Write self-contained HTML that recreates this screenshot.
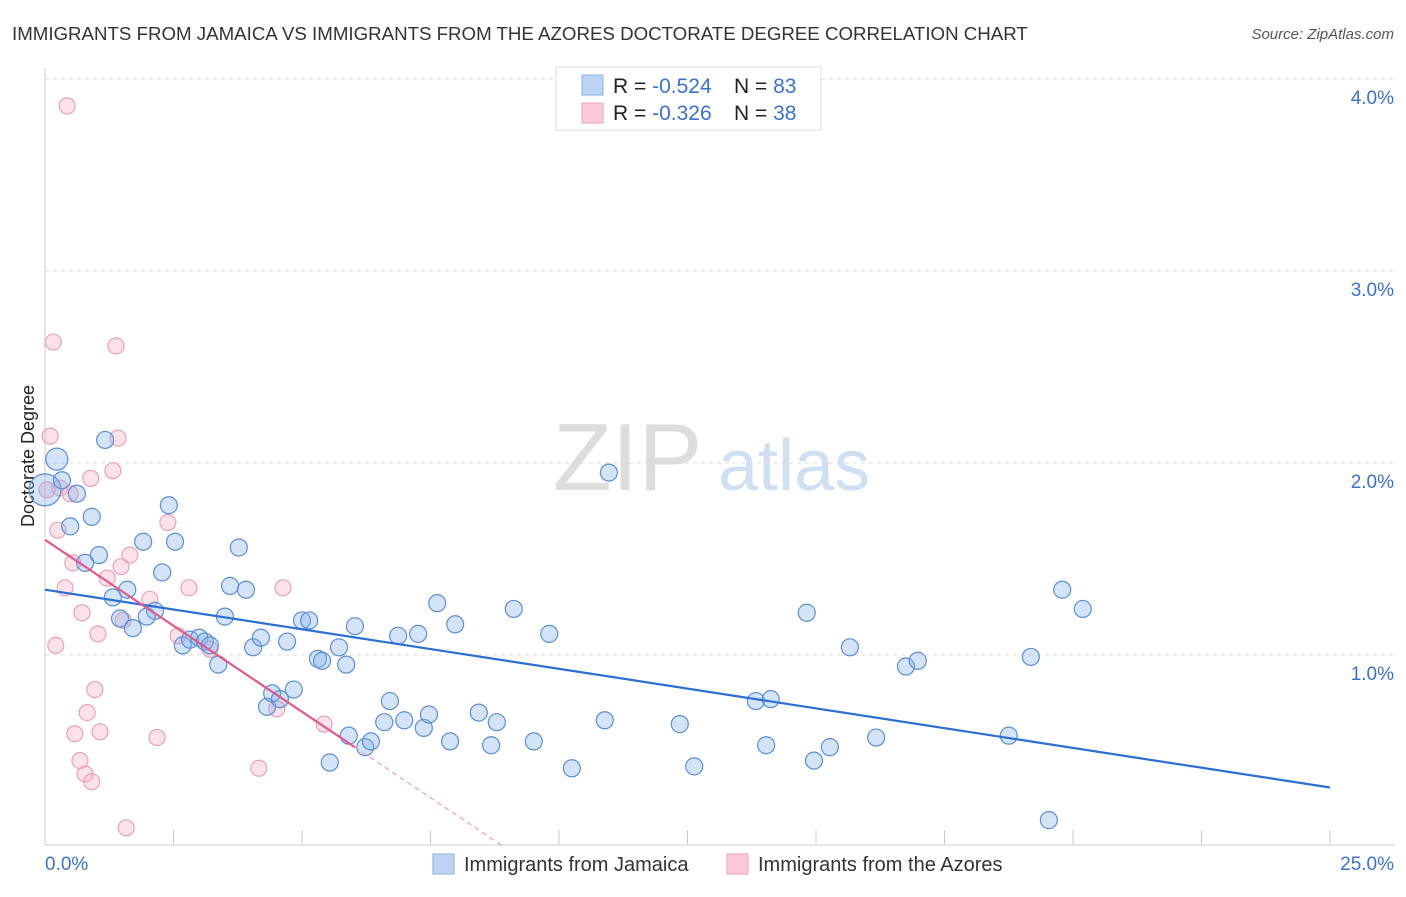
<!DOCTYPE html>
<html><head><meta charset="utf-8"><style>
body{margin:0;background:#fff;font-family:"Liberation Sans",sans-serif;}
svg text{font-family:"Liberation Sans",sans-serif;}
</style></head><body>
<svg id="chart" width="1406" height="892">
<text x="12" y="40" font-size="18.7" fill="#333">IMMIGRANTS FROM JAMAICA VS IMMIGRANTS FROM THE AZORES DOCTORATE DEGREE CORRELATION CHART</text>
<text x="1394" y="39" font-size="15" fill="#555" text-anchor="end" font-style="italic">Source: ZipAtlas.com</text>
<text x="34" y="456" font-size="18" fill="#222" text-anchor="middle" transform="rotate(-90 34 456)">Doctorate Degree</text>
<g><text x="553" y="490" font-size="96" fill="#ddd" font-family="Liberation Serif">ZIP</text><text x="718" y="490" font-size="72" fill="#cfe0f3">atlas</text></g>
<g id="grid"></g><g id="axes"></g><g id="pts"></g><g id="lines"></g>
<g>
<rect x="556" y="67" width="265" height="63" fill="#fff" stroke="#ddd"/>
<rect x="582" y="75" width="21" height="20" fill="#bcd5f5" stroke="#8ab1e6"/>
<rect x="582" y="103" width="21" height="20" fill="#fbc9d8" stroke="#eea3bb"/>
<text x="613" y="93" font-size="21" fill="#222">R = <tspan fill="#3b72d0">-0.524</tspan><tspan x="734">N = </tspan><tspan fill="#3b72d0">83</tspan></text>
<text x="613" y="120" font-size="21" fill="#222">R = <tspan fill="#3b72d0">-0.326</tspan><tspan x="734">N = </tspan><tspan fill="#3b72d0">38</tspan></text>
</g>
<g>
<rect x="433" y="854" width="21" height="20" fill="#bcd5f5" stroke="#8ab1e6"/>
<text x="464" y="871" font-size="20" fill="#333">Immigrants from Jamaica</text>
<rect x="727" y="854" width="21" height="20" fill="#fbc9d8" stroke="#eea3bb"/>
<text x="758" y="871" font-size="20" fill="#333">Immigrants from the Azores</text>
</g>
</svg>
<script>
const yTicks=[1,2,3,4];
const yTickLabels=["1.0%","2.0%","3.0%","4.0%"];
const xTickVals=[0,2.5,5,7.5,10,12.5,15,17.5,20,22.5,25];
const xEndLabels=["0.0%","25.0%"];
const jamX=[0,0.23,0.33,0.62,0.49,0.91,1.17,1.05,0.78,1.32,1.6,1.46,1.71,1.91,2.14,1.98,2.28,2.41,2.53,2.68,2.82,3,3.11,3.21,3.37,3.5,3.6,3.77,3.91,4.05,4.2,4.32,4.42,4.57,4.71,4.84,5,5.14,5.31,5.39,5.54,5.72,5.86,5.91,6.03,6.23,6.34,6.6,6.71,6.87,6.99,7.26,7.37,7.47,7.63,7.88,7.98,8.44,8.68,8.79,9.12,9.51,9.81,10.25,10.89,10.97,12.35,12.63,13.83,14.03,14.12,14.82,14.96,15.27,15.66,16.17,16.75,16.98,18.75,19.18,19.53,19.79,20.19];
const jamY=[1.86,2.02,1.91,1.84,1.67,1.72,2.12,1.52,1.48,1.3,1.34,1.19,1.14,1.59,1.23,1.2,1.43,1.78,1.59,1.05,1.08,1.09,1.07,1.05,0.95,1.2,1.36,1.56,1.34,1.04,1.09,0.73,0.8,0.77,1.07,0.82,1.18,1.18,0.98,0.97,0.44,1.04,0.95,0.58,1.15,0.52,0.55,0.65,0.76,1.1,0.66,1.11,0.62,0.69,1.27,0.55,1.16,0.7,0.53,0.65,1.24,0.55,1.11,0.41,0.66,1.95,0.64,0.42,0.76,0.53,0.77,1.22,0.45,0.52,1.04,0.57,0.94,0.97,0.58,0.99,0.14,1.34,1.24];
const azX=[0.43,0.16,1.38,0.1,1.42,1.32,0.89,0.29,0.49,0.25,0.54,0.39,0.72,1.03,0.21,1.21,1.48,1.65,1.52,2.04,2.39,2.59,2.8,3.21,4.51,4.63,5.43,0.97,0.82,0.58,1.07,2.18,0.68,0.78,0.91,4.16,1.58,0.04];
const azY=[3.86,2.63,2.61,2.14,2.13,1.96,1.92,1.87,1.84,1.65,1.48,1.35,1.22,1.11,1.05,1.4,1.46,1.52,1.18,1.29,1.69,1.1,1.35,1.03,0.72,1.35,0.64,0.82,0.7,0.59,0.6,0.57,0.45,0.38,0.34,0.41,0.1,1.86];
const jamFit=[1.34,0.31];
const azFit=[1.60,0.52,6.03];
const X=v=>45+v*51.4, Y=v=>847-v*192;
const NS="http://www.w3.org/2000/svg";
function mk(tag,attrs,parent){const e=document.createElementNS(NS,tag);for(const k in attrs)e.setAttribute(k,attrs[k]);document.getElementById(parent).appendChild(e);return e;}
yTicks.forEach((t,i)=>{
 const l=mk('line',{x1:45,x2:1394,y1:Y(t),y2:Y(t),stroke:'#ddd','stroke-dasharray':'4,4'},'grid');
 
 
 const tx=mk('text',{x:1394,y:Y(t)+25,'font-size':19,fill:'#3b72d0','text-anchor':'end'},'grid');tx.textContent=yTickLabels[i];
 
 
});
const ax=mk('line',{x1:45,x2:1394,y1:845,y2:845,stroke:'#ccc'},'axes');


const ay=mk('line',{x1:45,x2:45,y1:68,y2:845,stroke:'#ccc'},'axes');


xTickVals.forEach(v=>{const t=mk('line',{x1:X(v),x2:X(v),y1:830,y2:845,stroke:'#ccc'},'axes');
 
 });
[[0,'start',45],[25,'end',1394]].forEach((a,i)=>{const t=mk('text',{x:a[2],y:870,'font-size':19,fill:'#3b72d0','text-anchor':a[1]},'axes');t.textContent=xEndLabels[i];
 
 });
azX.forEach((x,i)=>{const c=mk('circle',{cx:X(x),cy:Y(azY[i]),r:8,fill:'rgba(244,170,196,0.35)',stroke:'#eba0ba','stroke-width':1.2},'pts');
 
 });
jamX.forEach((x,i)=>{const c=mk('circle',{cx:X(x),cy:Y(jamY[i]),r:i==0?16:(i==1?11:8.5),fill:'rgba(130,175,235,0.35)',stroke:'#5b8fd6','stroke-width':1.2},'pts');
 
 });
const bl=mk('line',{x1:X(0),y1:Y(jamFit[0]),x2:X(25),y2:Y(jamFit[1]),stroke:'#2a6fd6','stroke-width':2.2},'lines');


const pl=mk('line',{x1:X(0),y1:Y(azFit[0]),x2:X(azFit[2]),y2:Y(azFit[1]),stroke:'#e05a8a','stroke-width':2.2},'lines');


const slope=(azFit[1]-azFit[0])/azFit[2];const xz=-azFit[0]/slope;
const pd=mk('line',{x1:X(azFit[2]),y1:Y(azFit[1]),x2:X(xz),y2:Y(0),stroke:'#e8a0b8','stroke-width':1.2,'stroke-dasharray':'5,4'},'lines');


</script>
</body></html>
